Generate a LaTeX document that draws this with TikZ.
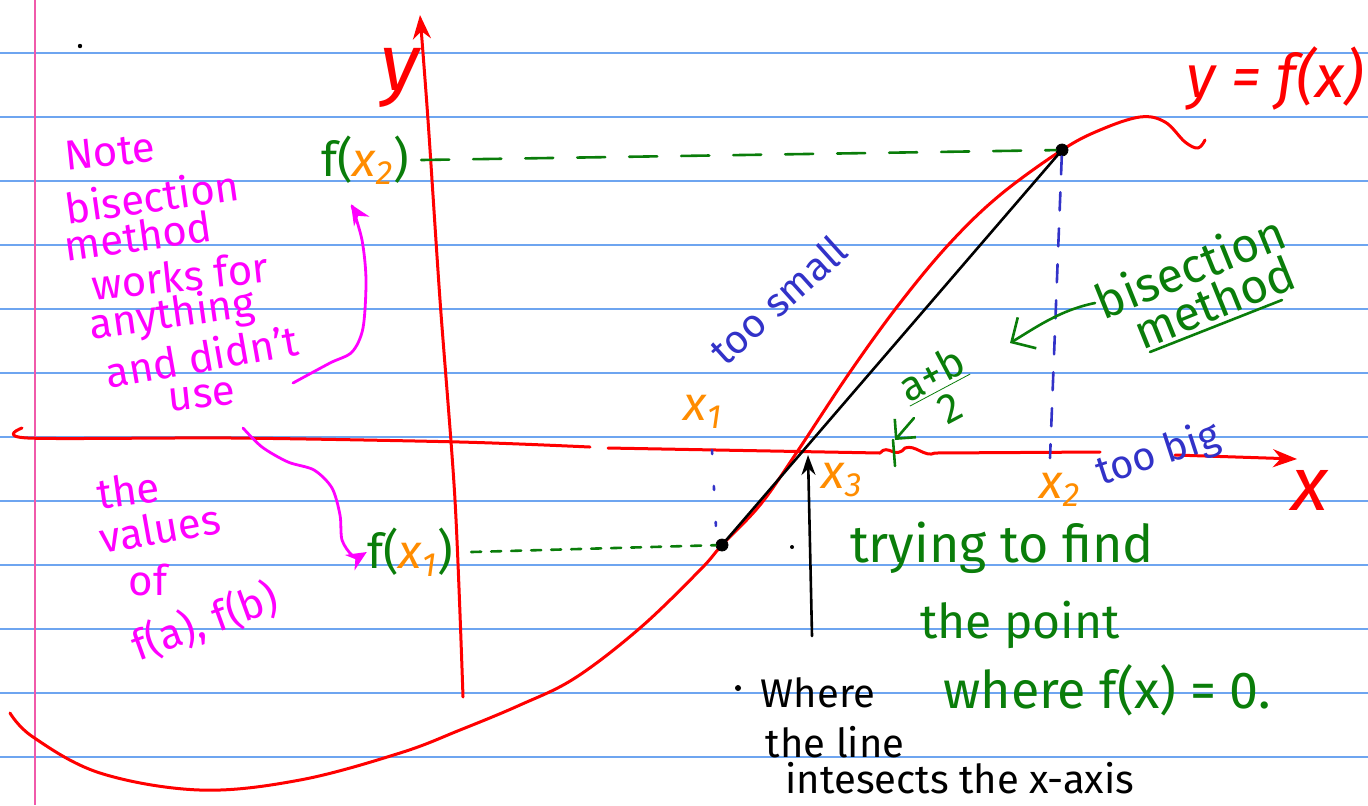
\documentclass[tikz,border=0pt]{standalone}
\usepackage{fontspec}
\setmainfont{Fira Sans}
\usetikzlibrary{arrows.meta}
\definecolor{ruleblue}{RGB}{110,165,240}
\definecolor{marginpink}{RGB}{240,90,170}
\definecolor{pen red}{RGB}{255,0,0}
\definecolor{pen green}{RGB}{10,125,10}
\definecolor{pen blue}{RGB}{50,50,200}
\definecolor{pen mag}{RGB}{255,0,255}
\definecolor{pen orange}{RGB}{255,140,0}
\tikzset{
  ruleline/.style={ruleblue, line width=0.8pt},
  marginline/.style={marginpink, line width=0.8pt},
  redpen/.style={pen red, line width=1.5pt, line cap=round, line join=round},
  blackpen/.style={black, line width=1.3pt, line cap=round},
  greenpen/.style={pen green, line width=1.3pt, line cap=round},
  bluepen/.style={pen blue, line width=1.3pt, line cap=round},
  magpen/.style={pen mag, line width=1.4pt, line cap=round, line join=round},
  hand/.style={inner sep=0pt, font=\fontsize{20}{24}\selectfont},
  bighand/.style={inner sep=0pt, font=\fontsize{24}{28}\selectfont},
  magtext/.style={inner sep=0pt, font=\fontsize{21}{25}\selectfont, text=pen mag},
  greentext/.style={bighand, text=pen green},
  blacktext/.style={hand, text=black},
  bluetext/.style={hand, text=pen blue},
  orangetext/.style={bighand, text=pen orange, font=\fontsize{24}{28}\selectfont\itshape},
  redtext/.style={inner sep=0pt, text=pen red},
  dot/.style={circle, fill=black, draw=black, inner sep=0pt, minimum size=6pt},
}
\begin{document}
\begin{tikzpicture}[x=0.5pt, y=-0.5pt]
\useasboundingbox (0,0) rectangle (1368,805);
% ruled paper
\foreach \yy in {53,117,181,245,309,373,437,501,565,629,693,757}
  \draw[ruleline] (0,\yy) -- (1368,\yy);
\draw[marginline] (35,0) -- (35,805);
\fill[black] (80,46) circle (2.2);

% y-axis
\coordinate (ybot) at (463,697);
\coordinate (ytop) at (420,15);
\draw[redpen, -{Stealth[length=12pt, width=9pt]}] plot[smooth] coordinates {(ybot) (455,500) (440,300) (428,120) (ytop)};
\node[redtext, font=\fontsize{40}{44}\selectfont\itshape] (ylab) at (400,78) {y};

% x-axis (broken, hand drawn)
\coordinate (xstart) at (22,428);
\coordinate (xend) at (1297,459);
\draw[redpen] plot[smooth] coordinates {(xstart) (28,438) (233,438) (460,442) (590,447)};
\draw[redpen] (608,448) -- (880,453) .. controls (888,443) and (895,460) .. (905,448) .. controls (915,444) and (925,458) .. (935,453) -- (1100,452);
\draw[redpen, -{Stealth[length=12pt, width=9pt]}] (1175,455) -- (xend);
\node[redtext, font=\fontsize{38}{42}\selectfont\itshape] (xlab) at (1310,490) {x};

% function curve
\coordinate (a) at (722,545);
\coordinate (b) at (1062,150);
\draw[redpen] plot[smooth, tension=0.6] coordinates {(10,713) (33,737) (100,773) (200,790) (300,780) (400,753) (460,730) (520,705) (575,678) (640,628) (700,570) (a) (760,505) (795,455) (850,372) (900,303) (950,243) (1000,195) (b) (1100,130) (1140,117) (1165,122) (1185,142) (1198,148) (1205,140)};
\node[redtext, font=\fontsize{30}{34}\selectfont\itshape] (flab) at (1275,78) {y = f(x)};

% secant line and endpoints
\draw[blackpen] (a) -- (b);
\node[dot] (pa) at (a) {};
\node[dot] (pb) at (b) {};

% projections
\node[inner sep=0pt, font=\fontsize{24}{28}\selectfont] (fx2) at (365,160) {\textcolor{pen green}{f(}\textcolor{pen orange}{\itshape x\textsubscript{2}}\textcolor{pen green}{)}};
\node[inner sep=0pt, font=\fontsize{24}{28}\selectfont] (fx1) at (410,552) {\textcolor{pen green}{f(}\textcolor{pen orange}{\itshape x\textsubscript{1}}\textcolor{pen green}{)}};
\draw[greenpen, dash pattern=on 14pt off 12pt] ([xshift=6pt]fx2.east) -- (pb);
\draw[greenpen, dash pattern=on 5pt off 5pt] ([xshift=9pt]fx1.east) -- (pa);
\draw[bluepen, dash pattern=on 9pt off 9pt] (pb) -- (1050,458);
\draw[bluepen, dash pattern=on 2pt off 16pt] (712,450) -- (716,528);

% x labels
\node[orangetext] (x1) at (703,412) {x\textsubscript{1}};
\node[orangetext] (x3) at (842,480) {x\textsubscript{3}};
\node[orangetext] (x2) at (1060,490) {x\textsubscript{2}};

% too small / too big
\node[bluetext, rotate=42] (small) at (778,300) {too small};
\node[bluetext, rotate=18] (big) at (1158,455) {too big};

% midpoint
\node[inner sep=0pt, text=pen green, font=\fontsize{21}{22}\selectfont, align=center, rotate=28] (mid) at (940,390) {\underline{a+b}\\[-3pt]2};
\draw[greenpen, -{Straight Barb[length=7pt]}] (914,418) -- (895,440);
\draw[greenpen] (893,440) -- (895,466);

% bisection method
\node[greentext, rotate=22] (bis) at (1190,266) {bisection};
\node[greentext, rotate=22] (meth) at (1214,302) {method};
\draw[greenpen] (1150,352) -- (1282,300);
\coordinate (bisarrow) at (1010,343);
\draw[greenpen, -{Straight Barb[length=9pt]}] (1095,303) .. controls (1060,310) and (1035,328) .. (bisarrow);

% intersection arrow
\coordinate (xint) at (808,455);
\draw[blackpen, -{Stealth[length=10pt, width=7pt]}] (812,636) -- (xint);
\fill[black] (792,547) circle (2);

% black note
\fill[black] (738,688) circle (3);
\node[blacktext] (w1) at (818,693) {Where};
\node[blacktext] (w2) at (835,742) {the line};
\node[blacktext] (w3) at (960,778) {intesects the x-axis};

% green note
\node[greentext, font=\fontsize{26}{30}\selectfont] (g1) at (1002,548) {trying to find};
\node[greentext] (g2) at (1020,625) {the point};
\node[greentext, font=\fontsize{26}{30}\selectfont] (g3) at (1107,690) {where f(x) = 0.};

% magenta notes
\node[magtext, rotate=6] (m1) at (110,152) {Note};
\node[magtext, rotate=8] (m2) at (152,196) {bisection};
\node[magtext, rotate=8] (m3) at (138,236) {method};
\node[magtext, rotate=6] (m4) at (180,276) {works for};
\node[magtext, rotate=8] (m5) at (172,316) {anything};
\node[magtext, rotate=10] (m6) at (202,356) {and didn't};
\node[magtext, rotate=6] (m7) at (202,397) {use};
\node[magtext, rotate=8] (n1) at (128,490) {the};
\node[magtext, rotate=10] (n2) at (160,528) {values};
\node[magtext] (n3) at (148,580) {of};
\node[magtext, rotate=20] (n4) at (205,622) {f(a), f(b)};

\draw[magpen, -{Stealth[length=10pt, width=9pt]}] plot[smooth] coordinates {(293,383) (330,363) (352,352) (363,328) (366,280) (362,240) (352,206)} -- ([shift={(-14,20)}]fx2.south);
\draw[magpen, -{Stealth[length=10pt, width=9pt]}] plot[smooth] coordinates {(243,428) (262,447) (288,462) (314,470) (332,488) (340,515) (342,540) (352,555) (362,555)} -- (fx1.west);
\end{tikzpicture}
\end{document}
